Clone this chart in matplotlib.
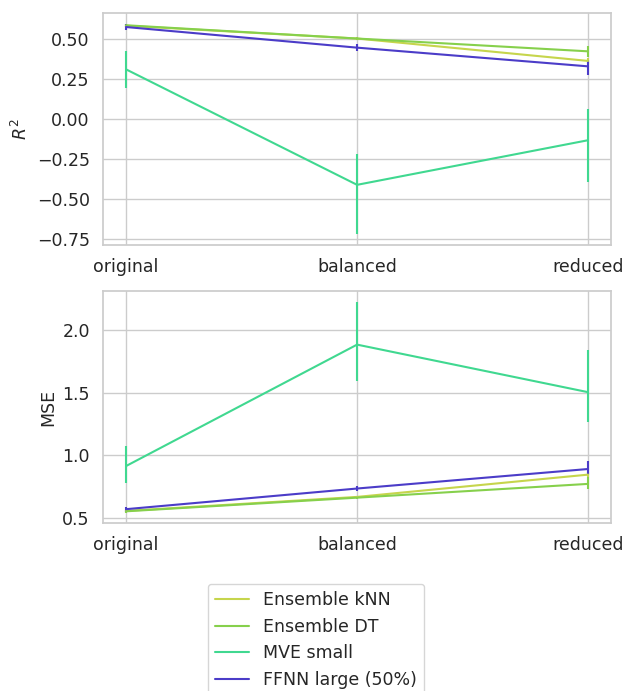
import numpy as np
import matplotlib
matplotlib.use("Agg")
import matplotlib.pyplot as plt
from matplotlib.lines import Line2D
import seaborn as sns

# --- Data ---
datasets = ["original", "balanced", "reduced"]
models = ["Ensemble kNN", "Ensemble DT", "MVE small", "FFNN large (50%)"]
colors = ["#c6d54c", "#86d04c", "#40d890", "#4b3cc8"]

# R^2: mean, lower error, upper error
r2_mean = [
    [0.585, 0.505, 0.365],   # Ensemble kNN
    [0.588, 0.505, 0.425],   # Ensemble DT
    [0.312, -0.410, -0.131], # MVE small
    [0.577, 0.448, 0.331],   # FFNN large
]
r2_lo = [
    [0.010, 0.010, 0.020],
    [0.010, 0.010, 0.035],
    [0.117, 0.310, 0.260],
    [0.020, 0.020, 0.056],
]
r2_hi = [
    [0.010, 0.010, 0.020],
    [0.010, 0.010, 0.035],
    [0.113, 0.190, 0.194],
    [0.020, 0.020, 0.042],
]

# MSE: mean, lower error, upper error
mse_mean = [
    [0.556, 0.668, 0.846],
    [0.553, 0.662, 0.772],
    [0.915, 1.885, 1.505],
    [0.570, 0.735, 0.891],
]
mse_lo = [
    [0.010, 0.010, 0.020],
    [0.010, 0.010, 0.042],
    [0.135, 0.288, 0.235],
    [0.020, 0.020, 0.050],
]
mse_hi = [
    [0.010, 0.010, 0.020],
    [0.010, 0.010, 0.058],
    [0.157, 0.342, 0.335],
    [0.020, 0.020, 0.067],
]

sns.set_theme(style="whitegrid", context="notebook")
plt.rcParams['font.family'] = ['DejaVu Sans']
FS = 12.5

fig, (ax1, ax2) = plt.subplots(2, 1, figsize=(6.32, 6.91), dpi=100)
x = np.arange(len(datasets))

for i, name in enumerate(models):
    ax1.errorbar(x, r2_mean[i], yerr=[r2_lo[i], r2_hi[i]], color=colors[i],
                 lw=1.5, label=name)
    ax2.errorbar(x, mse_mean[i], yerr=[mse_lo[i], mse_hi[i]], color=colors[i],
                 lw=1.5, label=name)

for ax in (ax1, ax2):
    ax.set_xticks(x)
    ax.set_xticklabels(datasets)
    ax.tick_params(labelsize=FS)
    for s in ax.spines.values():
        s.set_color("#cccccc")

ax1.set_yticks([-0.75, -0.5, -0.25, 0.0, 0.25, 0.5])
ax1.set_ylabel("$R^2$", fontsize=FS)
ax2.set_yticks([0.5, 1.0, 1.5, 2.0])
ax2.set_ylabel("MSE", fontsize=FS)

# legend centred under the lower axes, bottom edge close to the figure edge
handles = [Line2D([], [], color=c, lw=1.5) for c in colors]
ax2.legend(handles, models, loc="upper center",
           bbox_to_anchor=(0.5, 107 / 691), bbox_transform=fig.transFigure,
           borderaxespad=0, fontsize=FS, frameon=True)

fig.subplots_adjust(left=0.163, right=0.967, top=0.981, bottom=0.243,
                    hspace=0.2)
fig.savefig("out.png", dpi=100)
